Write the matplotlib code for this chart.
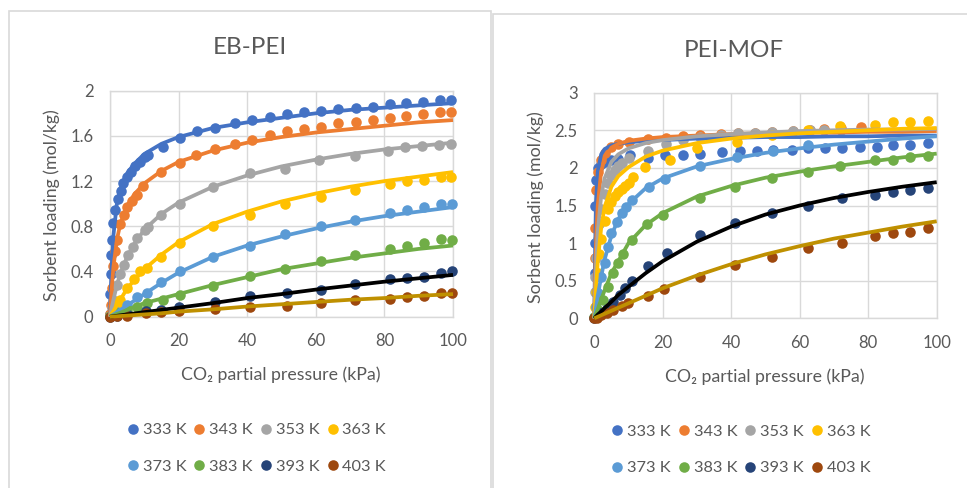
import numpy as np
import matplotlib
matplotlib.use("Agg")
import matplotlib.pyplot as plt
from matplotlib.patches import Rectangle
from matplotlib.ticker import FormatStrFormatter, MultipleLocator

plt.rcParams['font.family'] = ['Lato', 'DejaVu Sans']

TEMPS = ["333 K", "343 K", "353 K", "363 K", "373 K", "383 K", "393 K", "403 K"]
DOT_COLORS = ["#4472C4", "#ED7D31", "#A5A5A5", "#FFC000", "#5B9BD5", "#70AD47", "#264478", "#9E480E"]
LINE_COLORS = ["#4472C4", "#ED7D31", "#A5A5A5", "#FFC000", "#5B9BD5", "#70AD47", "#000000", "#BF9000"]

# ---- EB-PEI measured points ----
eb_x = [
    [0, 0.1, 0.2, 0.4, 0.6, 1, 1.6, 2.4, 3.1, 3.9, 4.9, 6, 7.3, 8.7, 10.2, 11.2, 15.5, 20.4, 25.4, 30.6,
     36.4, 41.5, 46.6, 51.7, 56.6, 61.5, 66.5, 71.6, 76.7, 81.6, 86.4, 91.3, 96.3, 99.5],
    [0, 0.2, 0.5, 1, 1.5, 2, 3, 4, 5, 6.3, 7.8, 9.7, 15, 20.4, 25.2, 30.6, 36.4, 41.5, 46.6, 51.7,
     56.6, 61.5, 66.5, 71.6, 76.7, 81.6, 86.4, 91.3, 96.3, 99.5],
    [0, 0.5, 1, 2, 3, 4, 5.3, 6.6, 8, 10.2, 11, 15, 20.4, 30, 40.8, 51, 61, 71.4, 81, 86, 91, 96, 99.5],
    [0, 1, 2, 3, 5, 7, 8.7, 10.7, 15, 20.4, 30, 40.8, 51, 61.5, 71.4, 81.6, 86.5, 91.4, 96.4, 99.5],
    [0, 2, 5, 8, 10.7, 15, 20.4, 30, 40.8, 51, 61.5, 71.4, 81.6, 86.5, 91.4, 96.4, 99.6],
    [0, 2, 5, 8, 10.7, 15.5, 20.4, 30, 40.8, 51, 61.5, 71.4, 81.6, 86.5, 91.4, 96.4, 99.6],
    [0, 2, 5, 10.5, 15, 20, 30.6, 40.8, 51.5, 61.5, 71.4, 81.6, 86.5, 91.4, 96.4, 99.6],
    [0, 2, 5, 10.5, 15, 20, 30.6, 40.8, 51.5, 61.5, 71.4, 81.6, 86.5, 91.4, 96.4, 99.6],
]
eb_y = [
    [0.02, 0.2, 0.38, 0.55, 0.68, 0.83, 0.94, 1.04, 1.11, 1.18, 1.24, 1.28, 1.33, 1.37, 1.41, 1.43, 1.50,
     1.58, 1.64, 1.67, 1.71, 1.74, 1.77, 1.79, 1.81, 1.82, 1.84, 1.85, 1.86, 1.88, 1.89, 1.90, 1.92, 1.92],
    [0.02, 0.1, 0.25, 0.45, 0.58, 0.68, 0.82, 0.90, 0.97, 1.02, 1.08, 1.16, 1.28, 1.36, 1.43, 1.48, 1.53,
     1.56, 1.61, 1.64, 1.66, 1.68, 1.71, 1.72, 1.74, 1.76, 1.78, 1.79, 1.81, 1.81],
    [0.01, 0.08, 0.15, 0.28, 0.38, 0.46, 0.55, 0.62, 0.70, 0.77, 0.79, 0.90, 1.0, 1.15, 1.27, 1.31, 1.39,
     1.42, 1.47, 1.50, 1.51, 1.52, 1.53],
    [0.01, 0.05, 0.1, 0.15, 0.25, 0.33, 0.40, 0.43, 0.53, 0.65, 0.80, 0.90, 1.0, 1.06, 1.12, 1.17, 1.20,
     1.21, 1.24, 1.24],
    [0.01, 0.04, 0.1, 0.17, 0.21, 0.31, 0.40, 0.53, 0.63, 0.73, 0.80, 0.86, 0.92, 0.94, 0.97, 1.0, 1.0],
    [0.01, 0.03, 0.06, 0.09, 0.12, 0.15, 0.19, 0.27, 0.36, 0.42, 0.49, 0.55, 0.60, 0.63, 0.655, 0.685, 0.68],
    [0.0, 0.01, 0.02, 0.05, 0.06, 0.09, 0.13, 0.18, 0.21, 0.24, 0.29, 0.33, 0.345, 0.355, 0.39, 0.405],
    [0.0, 0.005, 0.01, 0.03, 0.04, 0.05, 0.065, 0.085, 0.095, 0.118, 0.148, 0.157, 0.172, 0.183, 0.207, 0.207],
]

# ---- EB-PEI fitted curves ----
eb_fit_x = [0, 0.2, 0.5, 1, 2, 3, 5, 7, 10, 15, 20, 30, 40, 50, 60, 70, 80, 90, 100]
eb_fit_y = [
    [0, 0.22, 0.45, 0.72, 1.0, 1.13, 1.27, 1.35, 1.44, 1.53, 1.59, 1.67, 1.72, 1.76, 1.80, 1.83, 1.85, 1.87, 1.89],
    [0, 0.1, 0.25, 0.44, 0.68, 0.82, 0.98, 1.08, 1.18, 1.29, 1.37, 1.47, 1.54, 1.59, 1.63, 1.66, 1.69, 1.72, 1.74],
    [0, 0.03, 0.08, 0.15, 0.28, 0.38, 0.53, 0.64, 0.77, 0.91, 1.01, 1.15, 1.25, 1.33, 1.39, 1.44, 1.48, 1.51, 1.54],
    [0, 0.01, 0.03, 0.05, 0.1, 0.15, 0.25, 0.32, 0.42, 0.55, 0.66, 0.82, 0.93, 1.02, 1.09, 1.15, 1.20, 1.24, 1.28],
    [0, 0.005, 0.01, 0.02, 0.04, 0.06, 0.1, 0.14, 0.2, 0.3, 0.39, 0.53, 0.63, 0.71, 0.78, 0.84, 0.89, 0.93, 0.97],
    [0, 0.003, 0.006, 0.012, 0.025, 0.035, 0.06, 0.085, 0.12, 0.16, 0.20, 0.28, 0.35, 0.42, 0.47, 0.52, 0.56, 0.60, 0.63],
    [0, 0.001, 0.002, 0.004, 0.008, 0.012, 0.02, 0.028, 0.04, 0.06, 0.08, 0.12, 0.165, 0.20, 0.24, 0.275, 0.31, 0.34, 0.37],
    [0, 0.0, 0.001, 0.002, 0.004, 0.006, 0.01, 0.014, 0.02, 0.03, 0.045, 0.065, 0.09, 0.11, 0.13, 0.15, 0.165, 0.185, 0.2],
]

# ---- PEI-MOF measured points ----
mof_x = [
    [0.1, 0.2, 0.3, 0.5, 1, 2, 3, 5, 7, 10.4, 15.8, 20.6, 26, 30.9, 37.2, 42.6, 47.4, 52.3, 57.6, 62.5,
     67.4, 72.2, 77.6, 82.5, 87.3, 92.2, 97.5],
    [0.1, 0.2, 0.5, 1, 2, 3, 5, 7, 10, 15.8, 21, 26, 31, 37, 42, 47, 52, 58, 63, 67, 72, 78],
    [0.1, 0.3, 0.5, 1, 1.5, 2, 3, 4, 5, 6, 7, 8, 10, 15.8, 21, 26, 31, 37, 42, 47, 52, 58, 63, 67, 72],
    [0.2, 0.5, 1, 1.5, 2, 3, 4, 5, 6, 7, 8, 9, 10, 11.4, 14.8, 22.1, 29.9, 41.6, 51.8, 62.5, 71.8, 82,
     87.3, 92.2, 97.5],
    [0.5, 1.2, 2, 3, 4, 5, 6.5, 8, 9.4, 10.9, 16, 20.6, 30.9, 41.6, 52.3, 62.5],
    [0, 1.2, 2.6, 4, 5.5, 7, 8.5, 10.9, 15.3, 20.2, 30.9, 41.1, 51.8, 62.3, 71.8, 82, 87.3, 92.2, 97.5],
    [0, 1.7, 3.6, 5.5, 7.5, 9, 10.9, 15.8, 21.1, 30.9, 41.1, 51.8, 62.3, 72.2, 82, 87.3, 92.2, 97.5],
    [0, 0.7, 2, 3.6, 5.5, 8, 9.9, 15.6, 20.4, 30.9, 41.1, 51.8, 62.3, 72.2, 82, 87.3, 92.2, 97.5],
]
mof_y = [
    [0.6, 1.0, 1.5, 1.84, 2.0, 2.05, 2.08, 2.1, 2.12, 2.17, 2.13, 2.17, 2.17, 2.19, 2.21, 2.23, 2.23, 2.24,
     2.24, 2.26, 2.26, 2.26, 2.28, 2.28, 2.30, 2.30, 2.33],
    [0.8, 1.2, 1.7, 1.95, 2.1, 2.2, 2.28, 2.32, 2.35, 2.38, 2.40, 2.42, 2.44, 2.45, 2.46, 2.47, 2.48, 2.49,
     2.50, 2.52, 2.53, 2.55],
    [0.35, 0.55, 0.8, 1.05, 1.25, 1.45, 1.65, 1.8, 1.9, 1.97, 2.02, 2.07, 2.13, 2.22, 2.32, 2.37, 2.41, 2.44,
     2.46, 2.47, 2.48, 2.49, 2.50, 2.50, 2.51],
    [0.15, 0.35, 0.6, 0.85, 1.05, 1.3, 1.45, 1.55, 1.62, 1.68, 1.72, 1.76, 1.80, 1.88, 2.01, 2.11, 2.26, 2.35,
     2.44, 2.50, 2.56, 2.57, 2.61, 2.61, 2.63],
    [0.15, 0.33, 0.55, 0.73, 0.95, 1.13, 1.28, 1.40, 1.48, 1.57, 1.74, 1.85, 2.02, 2.15, 2.23, 2.30],
    [0.02, 0.11, 0.24, 0.42, 0.60, 0.73, 0.86, 1.04, 1.25, 1.37, 1.60, 1.75, 1.86, 1.95, 2.03, 2.10, 2.11,
     2.14, 2.16],
    [0.01, 0.07, 0.13, 0.22, 0.31, 0.40, 0.49, 0.69, 0.87, 1.11, 1.27, 1.40, 1.49, 1.60, 1.64, 1.68, 1.71, 1.73],
    [0.0, 0.01, 0.04, 0.07, 0.11, 0.16, 0.21, 0.30, 0.385, 0.545, 0.71, 0.82, 0.93, 1.005, 1.09, 1.13, 1.15, 1.20],
]

# ---- PEI-MOF fitted curves ----
mof_fit_x = [0, 0.2, 0.5, 1, 2, 3, 5, 7, 10, 15, 20, 30, 40, 50, 60, 70, 80, 90, 100]
mof_fit_y = [
    [0, 0.8, 1.55, 1.95, 2.18, 2.25, 2.30, 2.32, 2.34, 2.36, 2.37, 2.39, 2.40, 2.41, 2.41, 2.42, 2.42, 2.43, 2.43],
    [0, 0.45, 1.0, 1.5, 1.95, 2.12, 2.27, 2.32, 2.36, 2.39, 2.41, 2.43, 2.45, 2.46, 2.47, 2.47, 2.48, 2.48, 2.49],
    [0, 0.3, 0.7, 1.15, 1.62, 1.86, 2.08, 2.18, 2.26, 2.33, 2.37, 2.42, 2.45, 2.47, 2.49, 2.50, 2.51, 2.51, 2.52],
    [0, 0.15, 0.4, 0.75, 1.2, 1.48, 1.75, 1.89, 2.01, 2.15, 2.23, 2.33, 2.39, 2.43, 2.46, 2.48, 2.50, 2.52, 2.53],
    [0, 0.05, 0.14, 0.3, 0.55, 0.78, 1.1, 1.32, 1.52, 1.73, 1.86, 2.02, 2.12, 2.20, 2.26, 2.31, 2.35, 2.39, 2.42],
    [0, 0.02, 0.06, 0.12, 0.25, 0.37, 0.6, 0.76, 1.0, 1.24, 1.40, 1.62, 1.76, 1.87, 1.95, 2.02, 2.08, 2.14, 2.19],
    [0, 0.01, 0.025, 0.05, 0.09, 0.135, 0.22, 0.31, 0.42, 0.60, 0.76, 1.02, 1.22, 1.38, 1.50, 1.60, 1.68, 1.75, 1.81],
    [0, 0.004, 0.01, 0.02, 0.04, 0.06, 0.1, 0.14, 0.2, 0.3, 0.4, 0.57, 0.72, 0.85, 0.96, 1.06, 1.14, 1.22, 1.29],
]

GRID = "#D9D9D9"
TXT = "#595959"

fig = plt.figure(figsize=(9.67, 4.88), dpi=100)
fig.patch.set_facecolor("white")

# chart area frames
fig.add_artist(Rectangle((8.5 / 967, -0.05), (491 - 8.5) / 967, 1.05 - 11 / 488,
                         transform=fig.transFigure, fill=False, ec=GRID, lw=1.2))
fig.add_artist(Rectangle((493 / 967, -0.05), 0.6, 1.05 - 14 / 488,
                         transform=fig.transFigure, fill=False, ec=GRID, lw=1.2))


def draw_panel(rect, title, px, py, fx, fy, ymax, ystep):
    ax = fig.add_axes(rect)
    hs = []
    for i in range(8):
        h, = ax.plot(px[i], py[i], 'o', ms=7.6, mew=0, color=DOT_COLORS[i], clip_on=False, zorder=3)
        hs.append(h)
    for i in range(8):
        ax.plot(fx, fy[i], '-', lw=2.7, color=LINE_COLORS[i], clip_on=False, zorder=4,
                solid_capstyle='butt')
    ax.set_xlim(0, 100)
    ax.set_ylim(0, ymax)
    ax.xaxis.set_major_locator(MultipleLocator(20))
    ax.yaxis.set_major_locator(MultipleLocator(ystep))
    ax.yaxis.set_major_formatter(FormatStrFormatter('%g'))
    ax.grid(True, color=GRID, lw=1.0, zorder=0)
    ax.set_axisbelow(True)
    for s in ax.spines.values():
        s.set_color(GRID)
        s.set_linewidth(1.0)
    ax.tick_params(length=0, pad=12, labelsize=12, labelcolor=TXT)
    ax.text(0.408, 1.189, title, transform=ax.transAxes, ha='center', va='center',
            fontsize=17.5, color=TXT)
    ax.text(-0.17, 0.494, "Sorbent loading (mol/kg)", transform=ax.transAxes, rotation=90,
            ha='center', va='center', fontsize=12.8, color=TXT)
    ax.text(0.4985, -0.258, "CO\u2082 partial pressure (kPa)", transform=ax.transAxes,
            ha='center', va='center', fontsize=12.8, color=TXT)
    order = [0, 4, 1, 5, 2, 6, 3, 7]
    ax.legend([hs[k] for k in order], [TEMPS[k] for k in order], ncol=4, loc='upper left',
              bbox_to_anchor=(0.05, -0.47), frameon=False, fontsize=11.8, labelcolor=TXT,
              handlelength=0.7, handletextpad=0.25, columnspacing=0.45, labelspacing=1.35,
              borderpad=0, borderaxespad=0, markerscale=1.0)
    return ax


draw_panel([110 / 967, 1 - 316.7 / 488, 343 / 967, 226 / 488], "EB-PEI",
           eb_x, eb_y, eb_fit_x, eb_fit_y, 2, 0.4)
draw_panel([594.3 / 967, 1 - 318.3 / 488, 342.4 / 967, 225.6 / 488], "PEI-MOF",
           mof_x, mof_y, mof_fit_x, mof_fit_y, 3, 0.5)

fig.savefig("out.png", dpi=100)
